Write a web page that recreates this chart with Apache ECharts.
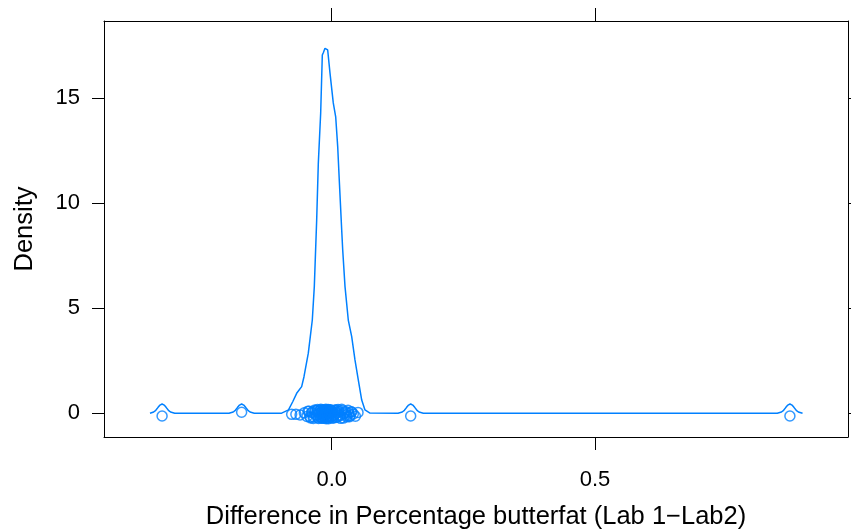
<!DOCTYPE html>
<html>
<head>
<meta charset="utf-8">
<script src="https://cdn.jsdelivr.net/npm/echarts@6/dist/echarts.min.js"></script>
<style>html,body{margin:0;padding:0;background:#fff}#c{width:851px;height:530px}</style>
</head>
<body>
<div id="c"></div>
<script>
// Density curve vertices
var curveX = [-0.345,-0.338,-0.334,-0.330,-0.326,-0.322,-0.318,-0.314,-0.310,-0.306,-0.298,
  -0.195,-0.187,-0.183,-0.179,-0.175,-0.171,-0.167,-0.163,-0.159,-0.155,-0.147,
  -0.095,-0.092,-0.082,-0.074,-0.0665,-0.057,-0.0526,-0.0444,-0.0368,-0.033,-0.0285,-0.0254,-0.0209,
  -0.0178,-0.0159,-0.0127,-0.0108,-0.0095,-0.0076,-0.0032,0.003,0.0076,0.0114,0.0144,0.019,0.0209,
  0.0253,0.0315,0.038,0.0442,0.0505,0.057,0.0632,0.0727,
  0.126,0.134,0.138,0.142,0.146,0.150,0.154,0.158,0.162,0.166,0.174,
  0.846,0.854,0.858,0.862,0.866,0.870,0.874,0.878,0.882,0.886,0.894];
var curveY = [0,0.06,0.14,0.27,0.39,0.44,0.39,0.27,0.14,0.06,0.005,
  0.005,0.06,0.14,0.27,0.39,0.44,0.39,0.27,0.14,0.06,0.005,
  0.005,0.01,0.16,0.55,0.95,1.27,1.74,2.86,4.44,6.03,9.2,11.9,14.3,
  17.06,17.17,17.38,17.46,17.43,17.3,16.2,14.78,14.12,12.7,11.11,8.73,7.79,
  6.03,4.44,3.65,2.54,1.59,0.63,0.16,0.01,
  0.005,0.06,0.14,0.27,0.39,0.44,0.39,0.27,0.14,0.06,0.005,
  0.005,0.06,0.14,0.27,0.39,0.44,0.39,0.27,0.14,0.06,0];
// Observations (rug points, jittered vertically)
var ptsX = [-0.322,-0.171,0.150,0.870,
  -0.076,-0.068,-0.060,-0.052,-0.047,-0.043,-0.040,-0.037,-0.034,-0.031,
  -0.029,-0.027,-0.025,-0.023,-0.021,-0.020,-0.019,-0.018,-0.017,-0.016,
  -0.015,-0.014,-0.013,-0.012,-0.011,-0.010,-0.009,-0.008,-0.007,-0.006,
  -0.005,-0.004,-0.003,-0.002,-0.001,0.000,0.001,0.002,0.004,0.006,
  0.008,0.010,0.012,0.014,0.017,0.020,0.023,0.026,0.029,0.032,
  0.035,0.038,0.041,0.045,0.050,
  -0.045,-0.041,-0.038,-0.035,-0.032,-0.030,-0.028,-0.026,-0.024,-0.022,
  -0.0205,-0.0195,-0.0185,-0.0175,-0.0165,-0.0155,-0.0145,-0.0135,-0.0125,-0.0115,
  -0.0105,-0.0095,-0.0085,-0.0075,-0.0065,-0.0055,-0.0045,-0.0035,-0.0025,-0.0015,
  0.0005,0.003,0.005,0.007,0.009,0.011,0.013,0.016,0.019,0.022,
  0.025,0.028,0.031,0.034,0.037];
var ptsY = [-0.13,0.05,-0.13,-0.13,
  -0.05,-0.05,-0.08,0.02,-0.15,0.10,-0.22,0.05,-0.18,0.12,
  -0.10,0.18,-0.25,0.00,0.15,-0.20,0.08,-0.12,0.16,-0.24,
  0.04,-0.16,0.12,-0.06,0.19,-0.22,0.02,-0.14,0.14,-0.26,
  0.07,-0.09,0.17,-0.19,0.00,0.11,-0.23,0.06,-0.12,0.15,
  -0.20,0.03,0.18,-0.08,-0.24,0.13,-0.02,0.09,-0.17,0.01,
  -0.11,0.06,-0.03,-0.14,0.04,
  0.10,-0.18,0.04,-0.25,0.16,-0.07,0.12,-0.21,0.08,-0.15,
  0.19,-0.03,-0.24,0.13,-0.11,0.06,-0.19,0.17,-0.05,0.09,
  -0.26,0.14,-0.13,0.02,0.18,-0.21,0.07,-0.08,0.16,-0.17,
  0.05,-0.22,0.11,-0.04,0.15,-0.18,0.08,-0.12,0.19,-0.23,
  0.03,-0.09,0.14,-0.16,0.07];
var xTicks = [0, 0.5];
var yTicks = [0, 5, 10, 15];
var xLabelText = {0: '0.0', 0.5: '0.5'};

var curve = curveX.map(function (x, i) { return [x, curveY[i]]; });
var pts = ptsX.map(function (x, i) { return [x, ptsY[i]]; });

var FONT = 'Liberation Sans';
var axisLineStyle = {color: '#000', width: 1};
var xMin = -0.4323, xMax = 0.9803, yMin = -1.13, yMax = 18.68;
function xAxisCfg(pos, labels) {
  return {
    type: 'value', position: pos, min: xMin, max: xMax,
    splitLine: {show: false},
    axisLine: {show: true, onZero: false, lineStyle: axisLineStyle},
    axisTick: {show: true, inside: false, length: 13, customValues: xTicks, lineStyle: axisLineStyle},
    axisLabel: {show: labels, customValues: xTicks, margin: 32, color: '#000', fontFamily: FONT, fontSize: 22,
      formatter: function (v) { return xLabelText[v] !== undefined ? xLabelText[v] : String(v); }},
    name: labels ? 'Difference in Percentage butterfat (Lab 1\u2212Lab2)' : '',
    nameLocation: 'middle', nameGap: 67,
    nameTextStyle: {color: '#000', fontFamily: FONT, fontSize: 25.5}
  };
}
function yAxisCfg(pos, labels) {
  return {
    type: 'value', position: pos, min: yMin, max: yMax,
    splitLine: {show: false},
    axisLine: {show: true, onZero: false, lineStyle: axisLineStyle},
    axisTick: {show: true, inside: false, length: 12, customValues: yTicks, lineStyle: axisLineStyle},
    axisLabel: {show: labels, customValues: yTicks, margin: 24, color: '#000', fontFamily: FONT, fontSize: 22},
    name: labels ? 'Density' : '',
    nameLocation: 'middle', nameGap: 66, nameRotate: 90,
    nameTextStyle: {color: '#000', fontFamily: FONT, fontSize: 25.5}
  };
}

var chart = echarts.init(document.getElementById('c'), null, {renderer: 'canvas'});
chart.setOption({
  animation: false,
  backgroundColor: '#fff',
  grid: {left: 104, right: 3, top: 21, bottom: 93, show: false, containLabel: false, outerBoundsMode: 'none'},
  xAxis: [xAxisCfg('bottom', true), xAxisCfg('top', false)],
  yAxis: [yAxisCfg('left', true), yAxisCfg('right', false)],
  series: [
    {type: 'line', data: curve, showSymbol: false, symbol: 'none', smooth: false,
      lineStyle: {color: '#0080ff', width: 1.5}, clip: true},
    {type: 'scatter', data: pts, symbol: 'circle', symbolSize: 10,
      itemStyle: {color: 'rgba(0,0,0,0)', borderColor: '#0080ff', borderWidth: 1.5}}
  ]
});
</script>
</body>
</html>
